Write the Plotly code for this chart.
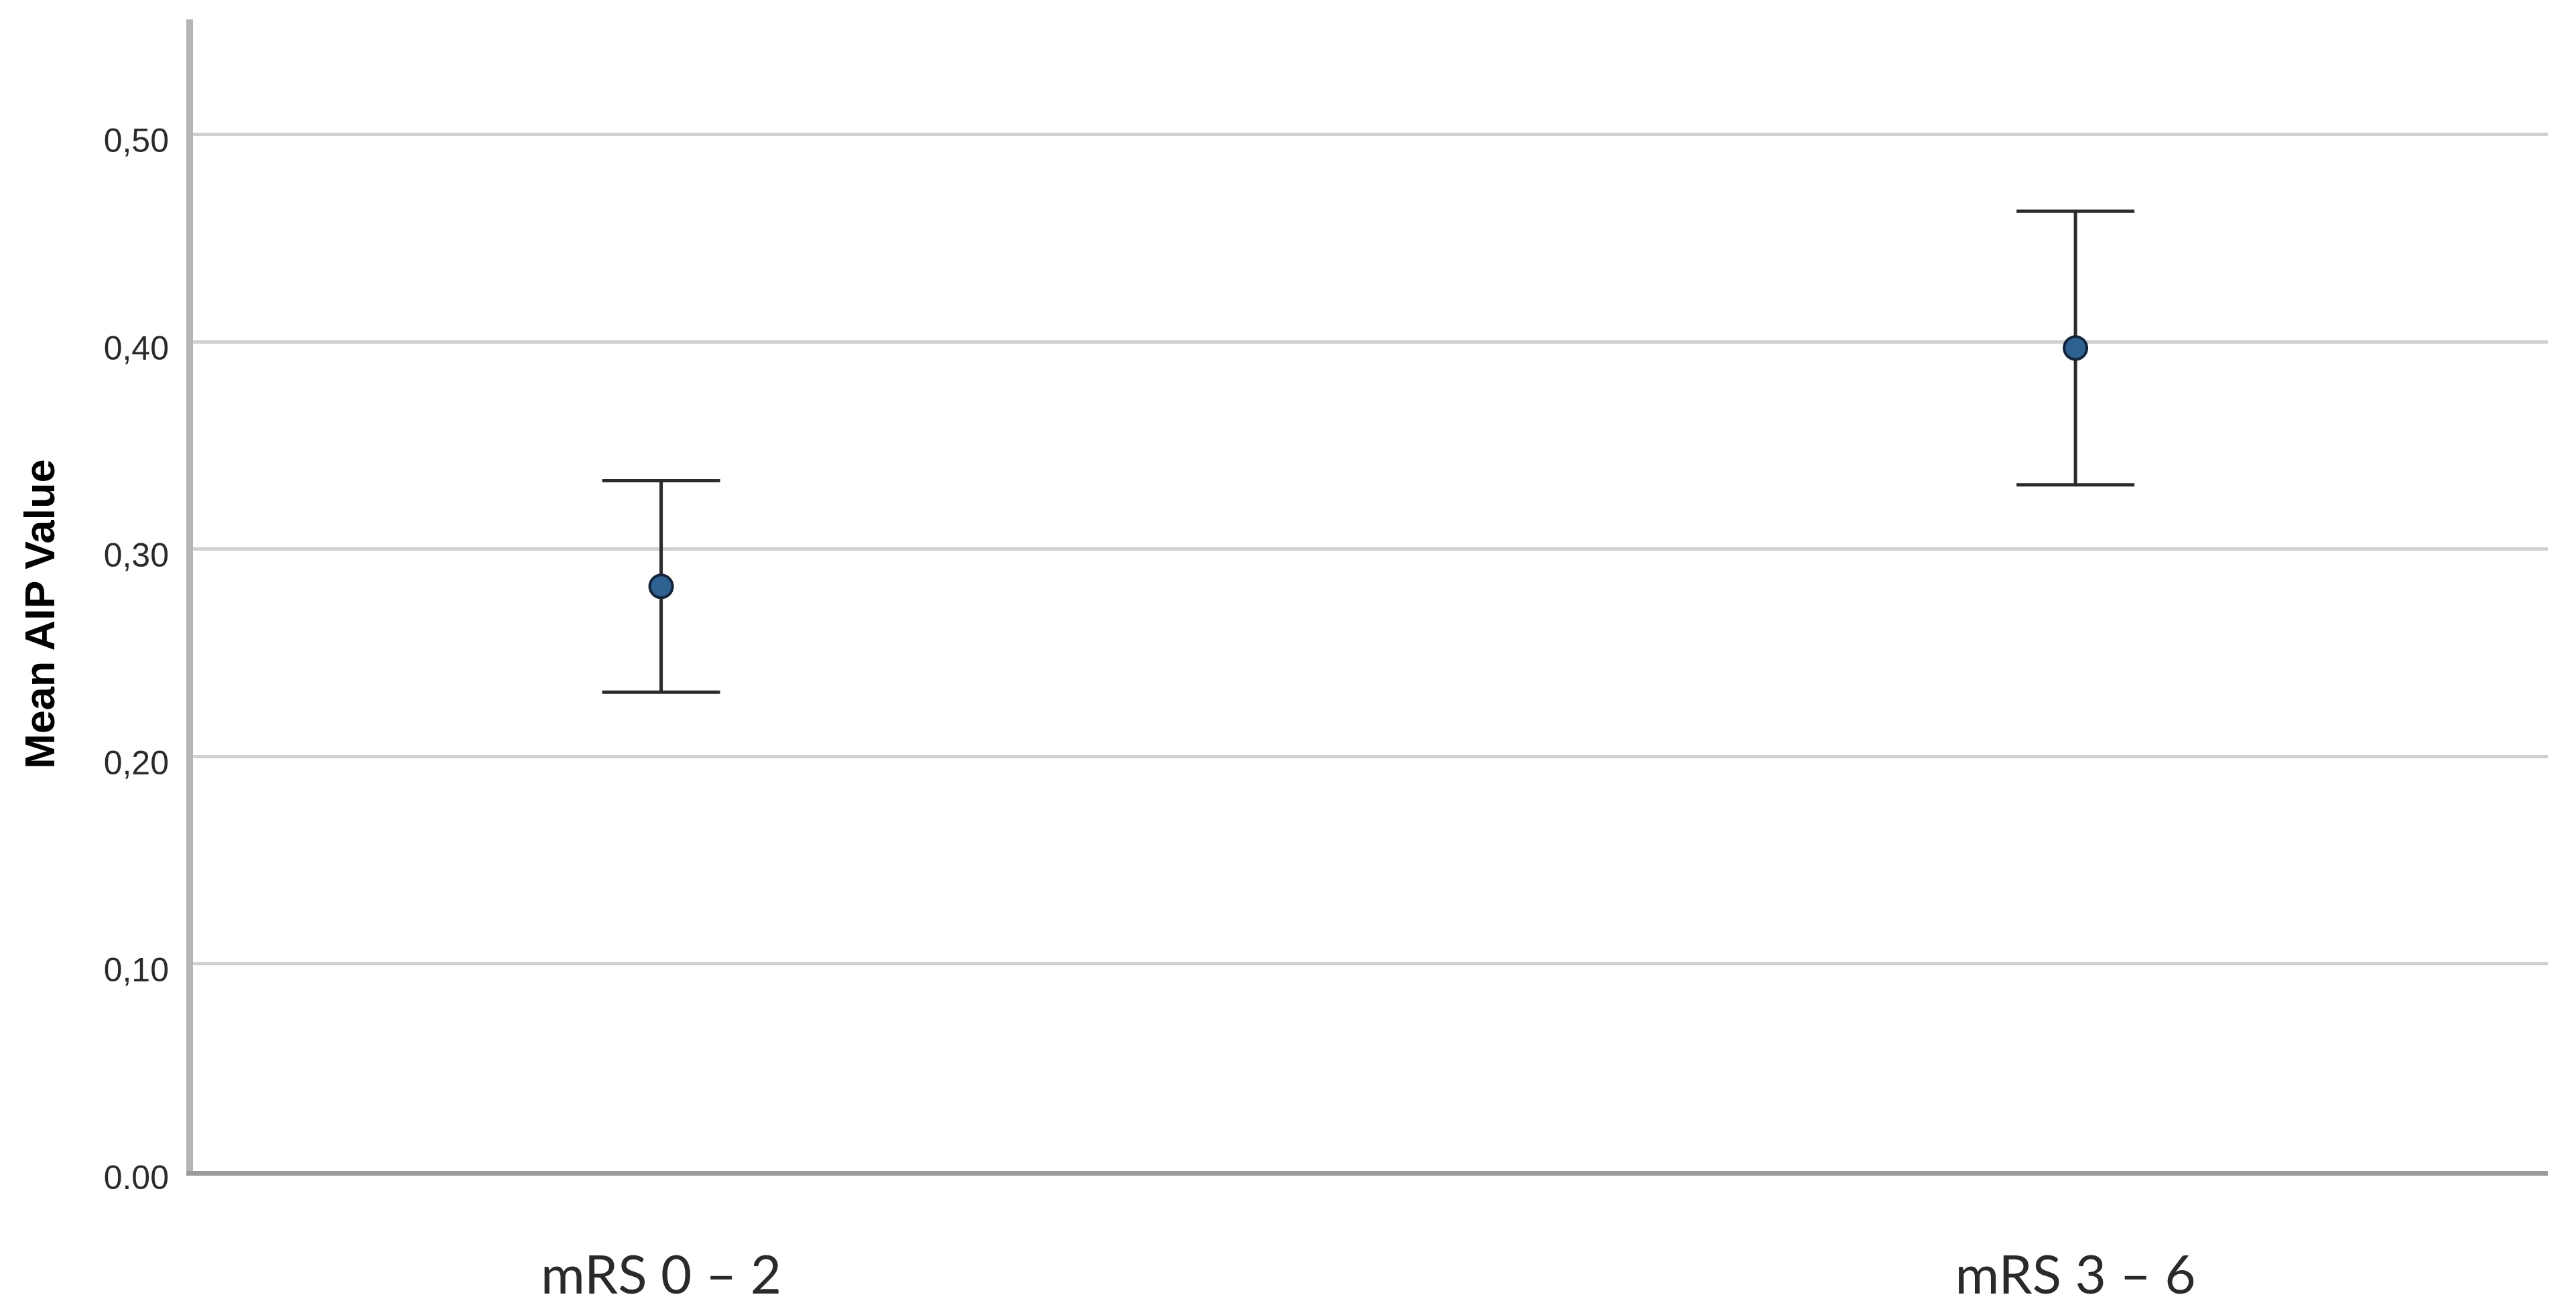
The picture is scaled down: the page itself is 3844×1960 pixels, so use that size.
import plotly.graph_objects as go

# Data
groups = ["mRS 0 \u2013 2", "mRS 3 \u2013 6"]
mean_aip = [0.282, 0.397]
ci_lower = [0.231, 0.331]
ci_upper = [0.333, 0.463]
y_tick_vals = [0.0, 0.1, 0.2, 0.3, 0.4, 0.5]
y_tick_text = ["0.00", "0,10", "0,20", "0,30", "0,40", "0,50"]

err_plus = [u - m for u, m in zip(ci_upper, mean_aip)]
err_minus = [m - l for m, l in zip(mean_aip, ci_lower)]

fig = go.Figure()
fig.add_trace(go.Scatter(
    x=groups,
    y=mean_aip,
    mode="markers",
    marker=dict(size=34, color="#2e6190", line=dict(width=4, color="#13243a")),
    error_y=dict(
        type="data",
        symmetric=False,
        array=err_plus,
        arrayminus=err_minus,
        color="#2b2b2b",
        thickness=5,
        width=88,
    ),
    showlegend=False,
    hoverinfo="x+y",
))

fig.update_layout(
    width=3844,
    height=1960,
    margin=dict(l=288, r=42, t=29, b=190),
    paper_bgcolor="white",
    plot_bgcolor="white",
    xaxis=dict(
        type="category",
        range=[-0.331, 1.334],
        showgrid=False,
        zeroline=False,
        showline=True,
        linecolor="#9a9a9a",
        linewidth=7,
        ticks="",
        ticklabelstandoff=80,
        tickfont=dict(family="Lato, Open Sans, sans-serif", size=80, color="#2a2a2a"),
    ),
    yaxis=dict(
        range=[0, 0.5555],
        tickvals=y_tick_vals,
        ticktext=y_tick_text,
        showgrid=True,
        gridcolor="#d0d0d0",
        gridwidth=5,
        zeroline=False,
        showline=True,
        linecolor="#b5b5b5",
        linewidth=10,
        ticks="",
        ticklabelstandoff=16,
        ticklabelshift=9,
        tickfont=dict(family="Liberation Sans, Arial, sans-serif", size=50, color="#2a2a2a"),
    ),
    annotations=[dict(
        text="<b>Mean AIP Value</b>",
        xref="paper", yref="paper",
        x=0, y=0.4836,
        xshift=-229,
        xanchor="center", yanchor="middle",
        textangle=-90,
        showarrow=False,
        font=dict(family="Liberation Sans, Arial, sans-serif", size=63, color="#000000"),
    )],
)

fig.write_html("out.html", config={"displayModeBar": False},
               post_script="document.body.style.margin='0';")
